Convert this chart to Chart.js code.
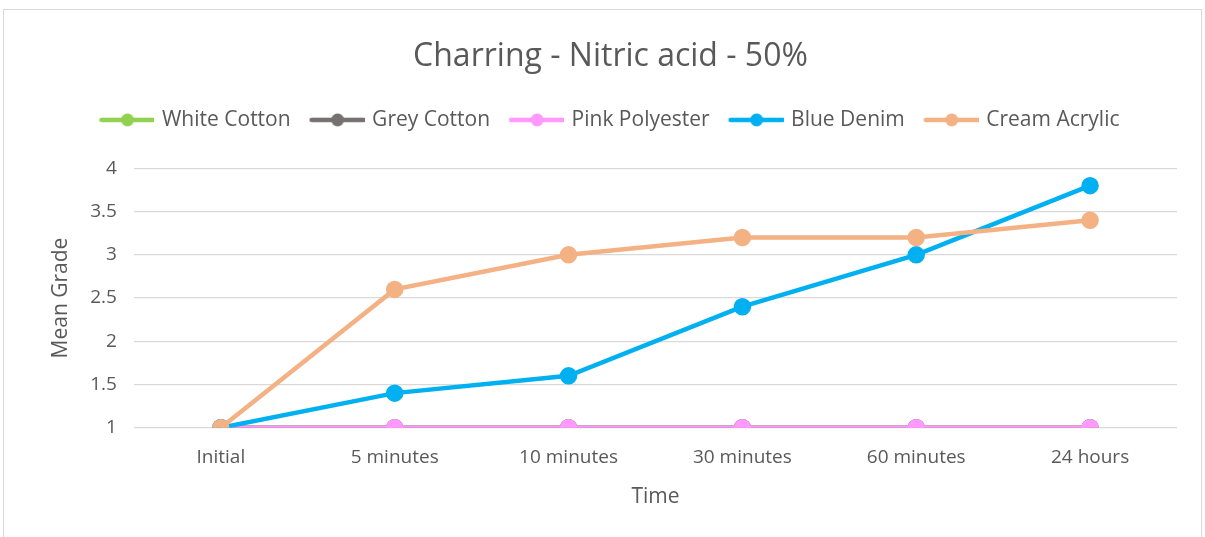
<!DOCTYPE html>
<html>
<head>
<meta charset="utf-8">
<script src="https://cdn.jsdelivr.net/npm/chart.js@4"></script>
<style>
  body { margin: 0; background: #fff; }
  #frame { position: absolute; left: 3px; top: 9px; width: 1197px; height: 540px; border: 1px solid #d9d9d9; }
  #myChart { position: absolute; left: 0; top: 0; }
</style>
</head>
<body>
<div id="frame"></div>
<canvas id="myChart" width="1205" height="537"></canvas>
<script>
var times = ["Initial", "5 minutes", "10 minutes", "30 minutes", "60 minutes", "24 hours"];
var whiteCotton = [1, 1, 1, 1, 1, 1];
var greyCotton = [1, 1, 1, 1, 1, 1];
var pinkPolyester = [1, 1, 1, 1, 1, 1];
var blueDenim = [1, 1.4, 1.6, 2.4, 3, 3.8];
var creamAcrylic = [1, 2.6, 3, 3.2, 3.2, 3.4];

var fontName = "'Open Sans', 'Liberation Sans', sans-serif";
var textColor = "#595959";

// legend swatch: short line with a dot in the middle, like Excel
function swatch(color) {
  var c = document.createElement("canvas");
  c.width = 56; c.height = 16;
  var g = c.getContext("2d");
  g.strokeStyle = color;
  g.lineWidth = 4.5;
  g.lineCap = "round";
  g.beginPath(); g.moveTo(3, 8); g.lineTo(55, 8); g.stroke();
  g.fillStyle = color;
  g.beginPath(); g.arc(29, 8, 6.5, 0, Math.PI * 2); g.fill();
  return c;
}

function series(label, data, color, order) {
  return {
    label: label,
    data: data,
    borderColor: color,
    backgroundColor: color,
    pointBackgroundColor: color,
    pointBorderColor: color,
    borderWidth: 4.5,
    pointRadius: 6.5,
    pointHoverRadius: 6.5,
    tension: 0,
    order: order,
    swatch: swatch(color)
  };
}

// extra room under the legend
var legendGap = {
  id: "legendGap",
  beforeInit: function (chart) {
    var fit = chart.legend.fit;
    chart.legend.fit = function () {
      fit.bind(chart.legend)();
      this.height += 28;
    };
  }
};

var ctx = document.getElementById("myChart").getContext("2d");
var myLineChart = new Chart(ctx, {
  type: "line",
  data: {
    labels: times,
    datasets: [
      series("White Cotton", whiteCotton, "#92D050", 5),
      series("Grey Cotton", greyCotton, "#767171", 4),
      series("Pink Polyester", pinkPolyester, "#FF99FF", 3),
      series("Blue Denim", blueDenim, "#00B0F0", 2),
      series("Cream Acrylic", creamAcrylic, "#F4B183", 1)
    ]
  },
  plugins: [legendGap],
  options: {
    responsive: false,
    animation: false,
    layout: { padding: { left: 44, right: 28, top: 38, bottom: 25.5 } },
    plugins: {
      title: {
        display: true,
        text: "Charring - Nitric acid - 50%",
        color: textColor,
        font: { family: fontName, size: 32, weight: "normal" },
        padding: { top: 0, bottom: 12 }
      },
      legend: {
        position: "top",
        labels: {
          color: textColor,
          font: { family: fontName, size: 21 },
          usePointStyle: true,
          pointStyleWidth: 50,
          padding: 21,
          generateLabels: function (chart) {
            return chart.data.datasets.map(function (ds, i) {
              return {
                text: ds.label,
                fontColor: textColor,
                pointStyle: ds.swatch,
                datasetIndex: i,
                lineWidth: 0
              };
            });
          }
        }
      },
      tooltip: { enabled: false }
    },
    scales: {
      x: {
        offset: true,
        grid: { display: false, drawTicks: false },
        border: { display: false },
        ticks: { color: textColor, font: { family: fontName, size: 19 }, padding: 18 },
        title: { display: true, text: "Time", color: textColor, font: { family: fontName, size: 21, lineHeight: 1 }, padding: { top: 0 } }
      },
      y: {
        min: 1,
        max: 4,
        ticks: {
          stepSize: 0.5,
          color: textColor,
          font: { family: fontName, size: 19 },
          padding: 17,
          callback: function (v) { return String(v); }
        },
        grid: { color: "#d9d9d9", lineWidth: 1.3, drawTicks: false },
        border: { display: false },
        title: { display: true, text: "Mean Grade", color: textColor, font: { family: fontName, size: 21 }, padding: { top: 4, bottom: 0 } }
      }
    }
  }
});
</script>
</body>
</html>
